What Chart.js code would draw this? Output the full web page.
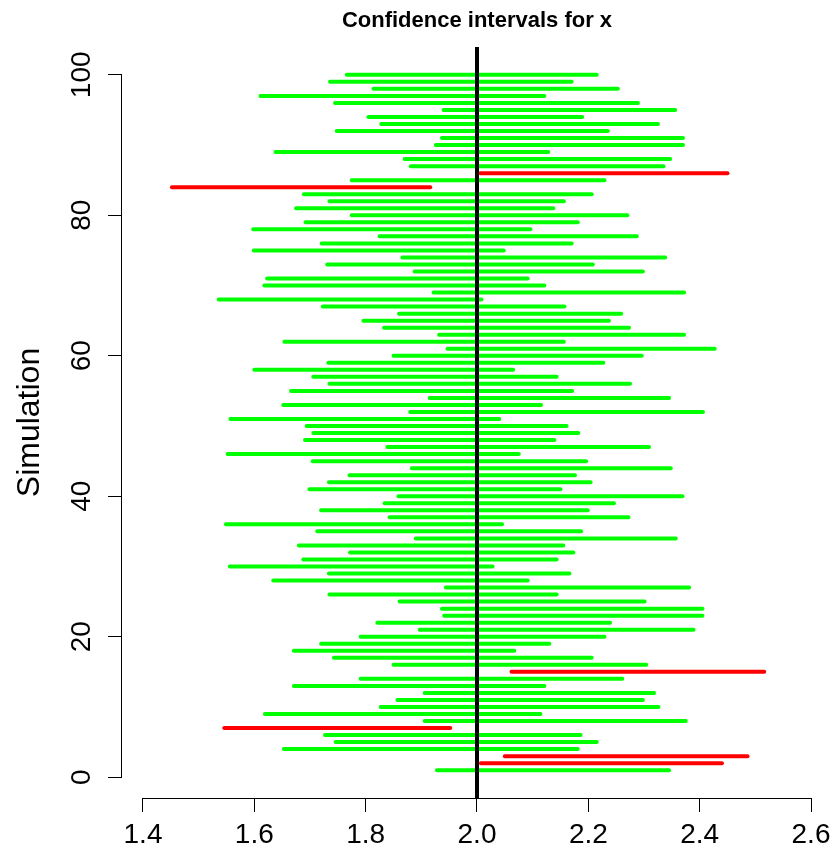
<!DOCTYPE html>
<html>
<head>
<meta charset="utf-8">
<script src="https://cdn.jsdelivr.net/npm/chart.js@4.4.1/dist/chart.umd.min.js"></script>
<style>
html,body{margin:0;padding:0;background:#fff;}
#wrap{width:837px;height:853px;}
</style>
</head>
<body>
<div id="wrap"><canvas id="c" width="837" height="853"></canvas></div>
<script>
const simulations = Array.from({length:100},(_,k)=>k+1);
const lowerBounds = [
1.928,2.007,2.050,1.653,1.746,1.727,1.546,1.906,1.619,1.827,
1.857,1.906,1.671,1.791,2.062,1.850,1.743,1.671,1.720,1.791,
1.897,1.821,1.941,1.937,1.861,1.735,1.944,1.634,1.734,1.556,
1.688,1.772,1.680,1.890,1.713,1.549,1.843,1.720,1.834,1.859,
1.699,1.734,1.771,1.883,1.705,1.552,1.839,1.691,1.706,1.694,
1.557,1.880,1.652,1.915,1.666,1.735,1.706,1.600,1.733,1.850,
1.947,1.654,1.932,1.833,1.796,1.860,1.723,1.536,1.922,1.618,
1.623,1.888,1.731,1.866,1.599,1.721,1.825,1.598,1.692,1.775,
1.675,1.735,1.689,1.452,1.775,2.006,1.881,1.870,1.638,1.926,
1.937,1.748,1.828,1.805,1.940,1.745,1.611,1.814,1.736,1.766];
const upperBounds = [
2.345,2.440,2.486,2.181,2.215,2.186,1.952,2.375,2.114,2.326,
2.298,2.318,2.121,2.261,2.516,2.304,2.206,2.067,2.130,2.229,
2.389,2.239,2.405,2.405,2.301,2.143,2.381,2.091,2.166,2.028,
2.143,2.173,2.155,2.357,2.187,2.045,2.272,2.199,2.246,2.369,
2.150,2.204,2.176,2.348,2.196,2.075,2.309,2.139,2.182,2.161,
2.040,2.406,2.115,2.345,2.171,2.275,2.143,2.065,2.227,2.296,
2.427,2.156,2.372,2.273,2.237,2.259,2.157,2.008,2.372,2.121,
2.091,2.298,2.208,2.338,2.048,2.170,2.287,2.096,2.181,2.270,
2.137,2.156,2.206,1.916,2.229,2.450,2.335,2.347,2.128,2.370,
2.370,2.235,2.325,2.189,2.356,2.289,2.121,2.253,2.170,2.215];
const missedSimulations = [2,3,7,15,84,86];
const trueValue = 2.0;
const xTickLabels = [1.4,1.6,1.8,2.0,2.2,2.4,2.6];
const yTickLabels = [0,20,40,60,80,100];
const titleText = 'Confidence intervals for x';
const yTitle = 'Simulation';

const FONT = "'Liberation Sans', Arial, Helvetica, sans-serif";
const datasets = [];
simulations.forEach((s,k)=>{
  const missed = missedSimulations.includes(s);
  datasets.push({
    data:[{x:lowerBounds[k],y:s},{x:upperBounds[k],y:s}],
    borderColor: missed ? '#FF0000' : '#00FF00',
    borderWidth:4, borderCapStyle:'round', pointRadius:0, order:1
  });
});
const yMin = -2.96, yMax = 103.96;
datasets.push({
  data:[{x:trueValue,y:yMin},{x:trueValue,y:yMax}],
  borderColor:'#000000', borderWidth:4, pointRadius:0, order:0
});

const axisLines = {
  id:'axisLines',
  afterDraw(chart){
    const ctx = chart.ctx, xs = chart.scales.x, ys = chart.scales.y;
    ctx.save();
    ctx.strokeStyle = '#000'; ctx.lineWidth = 1;
    ctx.beginPath();
    const yb = Math.round(ys.bottom)+0.5;
    ctx.moveTo(xs.getPixelForValue(xTickLabels[0]), yb);
    ctx.lineTo(xs.getPixelForValue(xTickLabels[xTickLabels.length-1]), yb);
    const xl = Math.round(xs.left)-0.5;
    ctx.moveTo(xl, ys.getPixelForValue(yTickLabels[0]));
    ctx.lineTo(xl, ys.getPixelForValue(yTickLabels[yTickLabels.length-1]));
    ctx.stroke();
    ctx.restore();
  }
};

new Chart(document.getElementById('c'), {
  type:'line',
  data:{datasets},
  plugins:[axisLines],
  options:{
    responsive:false, animation:false,
    layout:{padding:{left:0,right:5,top:0,bottom:0}},
    plugins:{
      legend:{display:false}, tooltip:{enabled:false},
      title:{display:true, text:titleText, fullSize:false, color:'#000',
        font:{family:FONT, size:22, weight:'bold'}, padding:{top:8,bottom:12.6}}
    },
    scales:{
      x:{type:'linear', min:1.3623, max:2.6377,
        afterBuildTicks(s){ s.ticks = xTickLabels.map(v=>({value:v})); },
        afterFit(s){ s.height = 55; },
        border:{display:false},
        grid:{display:true, drawOnChartArea:false, drawTicks:true, tickLength:14, color:'#000', lineWidth:1},
        ticks:{color:'#000', font:{family:FONT, size:28}, padding:6, maxRotation:0, minRotation:0,
          callback:(v)=>Number(v).toFixed(1)}
      },
      y:{type:'linear', min:yMin, max:yMax,
        afterBuildTicks(s){ s.ticks = yTickLabels.map(v=>({value:v})); },
        afterFit(s){ s.width = 122; },
        border:{display:false},
        grid:{display:true, drawOnChartArea:false, drawTicks:true, tickLength:14, color:'#000', lineWidth:1},
        ticks:{color:'#000', font:{family:FONT, size:28}, padding:2, minRotation:90, maxRotation:90, crossAlign:'center',
          callback:(v)=>String(v)},
        title:{display:true, text:yTitle, color:'#000', font:{family:FONT, size:32}, padding:{top:11,bottom:0}}
      }
    }
  }
});
</script>
</body>
</html>
